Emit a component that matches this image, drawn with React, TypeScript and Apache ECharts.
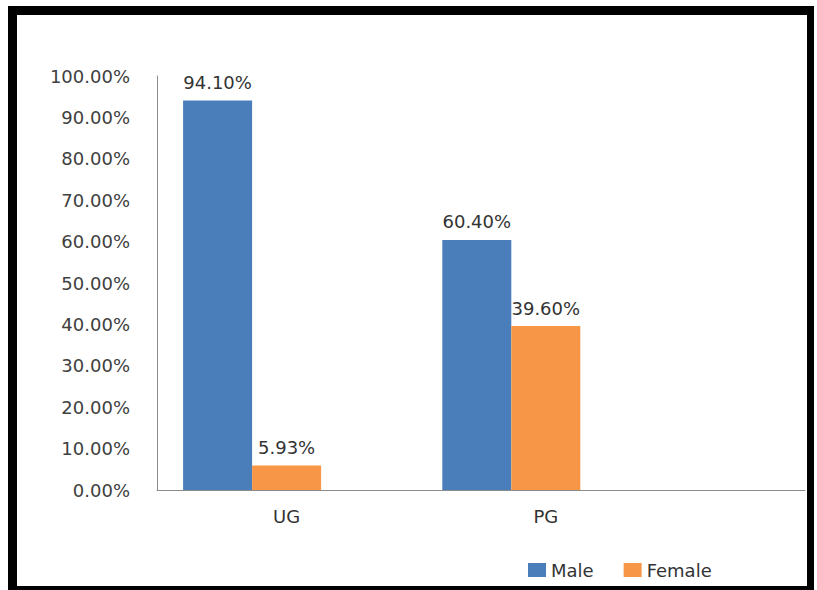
import React, { useEffect, useRef } from "react";
import * as echarts from "echarts";

const categories: string[] = ["UG", "PG"];
const maleValues: number[] = [94.1, 60.4];
const femaleValues: number[] = [5.93, 39.6];
const emptyValues: (number | null)[] = [null, null];
const seriesNames: string[] = ["Male", "Female", "Series3"];

const FONT = "DejaVu Sans";

export default function App() {
  const ref = useRef<HTMLDivElement>(null);
  useEffect(() => {
    if (!ref.current) return;
    const chart = echarts.init(ref.current, null, { renderer: "svg" });
    const toPairs = (vals: (number | null)[]) => categories.map((_, i) => [i, vals[i]]);
    const label = {
      show: true,
      position: "top",
      distance: 9,
      fontFamily: FONT,
      fontSize: 18,
      color: "#333333",
      formatter: (p: any) => (p.value[1] == null ? "" : p.value[1].toFixed(2) + "%"),
    };
    chart.setOption({
      animation: false,
      backgroundColor: "transparent",
      grid: { left: 157, right: 12, top: 76, bottom: 100, containLabel: false },
      legend: {
        data: ["Male", "Female"],
        left: 523,
        top: 556,
        icon: "rect",
        itemWidth: 18,
        itemHeight: 14,
        itemGap: 30,
        textStyle: { fontFamily: FONT, fontSize: 18, color: "#333333" },
      },
      xAxis: {
        type: "value",
        min: -0.5,
        max: 2,
        splitLine: { show: false },
        axisTick: { show: false },
        axisLine: { show: true, onZero: false, lineStyle: { color: "#8c8c8c", width: 1 } },
        axisLabel: {
          customValues: [0, 1],
          formatter: (v: number) => categories[Math.round(v)] ?? "",
          fontFamily: FONT,
          fontSize: 18,
          color: "#333333",
          margin: 17,
        },
      },
      yAxis: {
        type: "value",
        min: 0,
        max: 100,
        interval: 10,
        splitLine: { show: false },
        axisTick: { show: false },
        axisLine: { show: true, onZero: false, lineStyle: { color: "#8c8c8c", width: 1 } },
        axisLabel: {
          formatter: (v: number) => v.toFixed(2) + "%",
          fontFamily: FONT,
          fontSize: 18,
          color: "#404040",
          margin: 27,
        },
      },
      series: [
        {
          name: seriesNames[0],
          type: "bar",
          data: toPairs(maleValues),
          barWidth: 69,
          barGap: "0%",
          itemStyle: { color: "#4a7ebb" },
          label,
        },
        {
          name: seriesNames[1],
          type: "bar",
          data: toPairs(femaleValues),
          barWidth: 69,
          barGap: "0%",
          itemStyle: { color: "#f79646" },
          label,
        },
        {
          name: seriesNames[2],
          type: "bar",
          data: toPairs(emptyValues),
          barWidth: 69,
          barGap: "0%",
          itemStyle: { color: "#9bbb59" },
        },
      ],
    });
    return () => chart.dispose();
  }, []);
  return (
    <div style={{ position: "fixed", left: 0, top: 0, width: 817, height: 590, background: "#ffffff", overflow: "hidden" }}>
      <div ref={ref} style={{ position: "absolute", left: 0, top: 0, width: 817, height: 590 }} />
      <div
        style={{
          position: "absolute",
          left: 8,
          top: 6,
          width: 806 - 16,
          height: 586 - 15,
          borderStyle: "solid",
          borderColor: "#000000",
          borderTopWidth: 9,
          borderLeftWidth: 9,
          borderRightWidth: 7,
          borderBottomWidth: 6,
          pointerEvents: "none",
        }}
      />
    </div>
  );
}
